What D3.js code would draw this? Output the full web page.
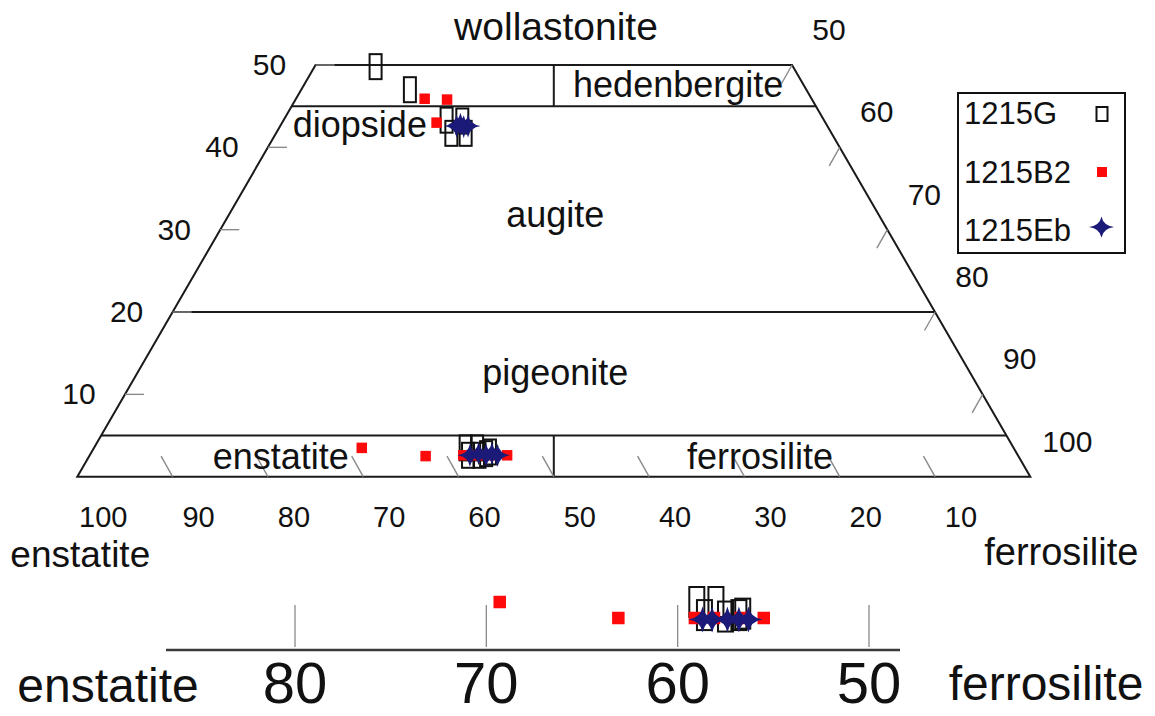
<!DOCTYPE html>
<html><head><meta charset="utf-8">
<script src="https://cdn.jsdelivr.net/npm/d3@7"></script>
<style>
body{margin:0;background:#fff}
svg{display:block}
text{font-family:"Liberation Sans",Arial,Helvetica,sans-serif;fill:#111}
</style>
</head><body>
<svg id="chart" width="1155" height="716"></svg>
<script>
// ---------------- data ----------------
const seriesNames = ["1215G", "1215B2", "1215Eb"];
// ternary compositions [Wo, En, Fs]
const data1215G = [
  [49.8, 43.8, 6.4], [47.0, 41.6, 11.4], [43.3, 39.6, 17.1],
  [41.7, 39.9, 18.4], [43.2, 38.0, 18.8], [41.7, 38.4, 19.9],
  [3.5, 57.5, 39.0], [3.5, 56.3, 40.2], [2.6, 57.7, 39.7],
  [2.6, 56.5, 40.9], [2.8, 55.7, 41.5], [3.0, 55.2, 41.8]
];
const data1215B2 = [
  [45.9, 40.6, 13.5], [45.8, 38.3, 15.9], [43.0, 40.8, 16.2],
  [3.5, 68.4, 28.1], [2.5, 62.2, 35.3], [2.6, 58.2, 39.2],
  [2.6, 56.7, 40.7], [2.6, 55.2, 42.2], [2.6, 53.6, 43.8]
];
const data1215Eb = [
  [42.6, 38.9, 18.5], [42.8, 38.4, 18.8], [42.5, 38.2, 19.3], [42.6, 37.7, 19.7],
  [2.6, 57.5, 39.9], [2.8, 56.5, 40.7], [2.6, 55.8, 41.6], [2.8, 55.1, 42.1], [2.6, 54.6, 42.8]
];
// enstatite strip: [En %, Wo level]
const strip1215G = [[59.0, 3.6], [58.0, 3.6], [58.6, 2.7], [57.5, 2.6], [56.8, 2.7], [56.6, 2.8]];
const strip1215B2 = [[69.3, 3.6], [63.1, 2.5], [59.1, 2.5], [58.1, 2.5], [56.7, 2.5], [55.5, 2.5]];
const strip1215Eb = [[58.7, 2.4], [58.2, 2.4], [57.4, 2.4], [56.8, 2.4], [56.3, 2.4]];

const woTicks = [10, 20, 30, 40, 50];
const rightTickLabels = [50, 60, 70, 80, 90, 100];
const bottomTickLabels = [100, 90, 80, 70, 60, 50, 40, 30, 20, 10];
const stripTickLabels = [80, 70, 60, 50];
const woBoundaries = [45, 20, 5];
const apexLabel = "wollastonite";
const endLabels = ["enstatite", "ferrosilite"];
const regionNames = ["hedenbergite", "diopside", "augite", "pigeonite", "enstatite", "ferrosilite"];

// ---------------- drawing ----------------
const svg = d3.select("#chart");
const FONT = '"Liberation Sans",Arial,Helvetica,sans-serif';

// ternary scales: horizontal = Fs + Wo/2, vertical = Wo
const tx = d3.scaleLinear().domain([0, 100]).range([77.3, 1030.3]);
const ty = d3.scaleLinear().domain([0, 100]).range([476.7, 476.7 - 823.4]);
const pt = (wo, fs) => [tx(fs + wo / 2), ty(wo)];

const frame = svg.append("g").attr("fill", "none").attr("stroke", "#1a1a1a").attr("stroke-width", 2);
const line = d3.line();

// outline trapezoid
frame.append("path").attr("d", line([pt(0, 0), pt(0, 100), pt(50, 50), pt(50, 0)]) + "Z");
// Wo boundaries
woBoundaries.forEach(w => frame.append("path").attr("d", line([pt(w, 0), pt(w, 100 - w)])));
// En = Fs dividers
frame.append("path").attr("d", line([pt(45, 27.5), pt(50, 25)]));
frame.append("path").attr("d", line([pt(0, 50), pt(5, 47.5)]));

// ticks
const ticks = svg.append("g").attr("stroke", "#8a8a8a").attr("stroke-width", 1.4);
woTicks.forEach(w => {
  const [x, y] = pt(w, 0);
  ticks.append("line").attr("x1", x).attr("y1", y).attr("x2", x + 19).attr("y2", y);
  const [x2, y2] = pt(w, 100 - w);
  ticks.append("line").attr("x1", x2).attr("y1", y2).attr("x2", x2 - 10.5).attr("y2", y2 + 18.5);
});
bottomTickLabels.slice(1).forEach(v => {
  const [x, y] = pt(0, 100 - v);
  ticks.append("line").attr("x1", x).attr("y1", y).attr("x2", x - 11.5).attr("y2", y - 20.5);
});

// tick labels
const lbl = svg.append("g").attr("font-family", FONT);
woTicks.forEach(w => {
  const [x, y] = pt(w, 0);
  lbl.append("text").attr("x", x - 46).attr("y", y + 10).attr("text-anchor", "middle")
    .attr("font-size", 30).text(w);
});
rightTickLabels.forEach(v => {
  const w = 100 - v;
  const [x, y] = pt(w, 100 - w);
  lbl.append("text").attr("x", x + 37).attr("y", y - 25).attr("text-anchor", "middle")
    .attr("font-size", 30).text(v);
});
bottomTickLabels.forEach(v => {
  const [x, y] = pt(0, 100 - v);
  lbl.append("text").attr("x", x + 26).attr("y", y + 50).attr("text-anchor", "middle")
    .attr("font-size", 29).text(v);
});

// axis end labels
lbl.append("text").attr("x", 556).attr("y", 40).attr("text-anchor", "middle").attr("font-size", 39).text(apexLabel);
lbl.append("text").attr("x", pt(0, 0)[0] + 3).attr("y", 567).attr("text-anchor", "middle").attr("font-size", 37).text(endLabels[0]);
lbl.append("text").attr("x", pt(0, 100)[0] + 31).attr("y", 565).attr("text-anchor", "middle").attr("font-size", 38).text(endLabels[1]);

// region labels (placed at ternary positions [Wo, Fs])
const regionPos = [[46.1, 40.0], [41.3, 9.0], [30.3, 35.0], [11.1, 44.6], [0.9, 20.9], [0.9, 71.2]];
regionNames.forEach((n, i) => {
  const [x, y] = pt(regionPos[i][0], regionPos[i][1]);
  lbl.append("text").attr("x", x).attr("y", y).attr("text-anchor", "middle").attr("font-size", 36).text(n);
});

// markers
const RED = "#ff0a0a", NAVY = "#1c1a78";
function starPath(rx, ry) {
  const k = 0.14;
  return `M0,${-ry}Q${rx * k},${-ry * k} ${rx},0Q${rx * k},${ry * k} 0,${ry}Q${-rx * k},${ry * k} ${-rx},0Q${-rx * k},${-ry * k} 0,${-ry}Z`;
}
function drawG(g, pts, w, h) {
  g.selectAll(null).data(pts).join("rect")
    .attr("x", d => d[0] - w / 2).attr("y", d => d[1] - h / 2).attr("width", w).attr("height", h)
    .attr("fill", "none").attr("stroke", "#111").attr("stroke-width", 2);
}
function drawB(g, pts, s) {
  g.selectAll(null).data(pts).join("rect")
    .attr("x", d => d[0] - s / 2).attr("y", d => d[1] - s / 2).attr("width", s).attr("height", s)
    .attr("fill", RED);
}
function drawE(g, pts, rx, ry) {
  g.selectAll(null).data(pts).join("path")
    .attr("transform", d => `translate(${d[0]},${d[1]})`).attr("d", starPath(rx, ry)).attr("fill", NAVY);
}
const tern = d => pt(d[0], d[2]);
const marks = svg.append("g");
drawG(marks.append("g"), data1215G.map(tern), 12, 25);
drawB(marks.append("g"), data1215B2.map(tern), 10.5);
drawE(marks.append("g"), data1215Eb.map(tern), 12.5, 11.5);

// legend
const leg = svg.append("g");
leg.append("rect").attr("x", 958).attr("y", 93).attr("width", 167).attr("height", 160)
  .attr("fill", "#fff").attr("stroke", "#111").attr("stroke-width", 2);
const legY = d3.scalePoint().domain(seriesNames).range([124, 241]);
seriesNames.forEach(n => {
  leg.append("text").attr("x", 964).attr("y", legY(n)).attr("font-family", FONT).attr("font-size", 31).text(n);
});
drawG(leg.append("g"), [[1102, legY("1215G") - 10]], 11, 14);
drawB(leg.append("g"), [[1102, legY("1215B2") - 10.5]], 10);
drawE(leg.append("g"), [[1101.5, legY("1215Eb") - 14]], 12.5, 10.5);

// ---------------- enstatite strip ----------------
const sx = d3.scaleLinear().domain([80, 50]).range([295, 869]);
const sy = d3.scaleLinear().domain([2.5, 3.6]).range([618, 602]);
const strip = svg.append("g");
strip.append("line").attr("x1", 166).attr("x2", 900).attr("y1", 650).attr("y2", 650)
  .attr("stroke", "#3a3a3a").attr("stroke-width", 2.5);
stripTickLabels.forEach(v => {
  strip.append("line").attr("x1", sx(v)).attr("x2", sx(v)).attr("y1", 605).attr("y2", 647)
    .attr("stroke", "#8a8a8a").attr("stroke-width", 1.3);
  strip.append("text").attr("x", sx(v)).attr("y", 703).attr("text-anchor", "middle")
    .attr("font-family", FONT).attr("font-size", 58).text(v);
});
strip.append("text").attr("x", 108).attr("y", 702).attr("text-anchor", "middle")
  .attr("font-family", FONT).attr("font-size", 48).text(endLabels[0]);
strip.append("text").attr("x", 1046).attr("y", 700).attr("text-anchor", "middle")
  .attr("font-family", FONT).attr("font-size", 48).text(endLabels[1]);
const sp = d => [sx(d[0]), sy(d[1])];
drawG(strip.append("g"), strip1215G.map(sp), 15, 30);
drawB(strip.append("g"), strip1215B2.map(sp), 12.5);
drawE(strip.append("g"), strip1215Eb.map(sp), 14, 13);
</script>
</body></html>
